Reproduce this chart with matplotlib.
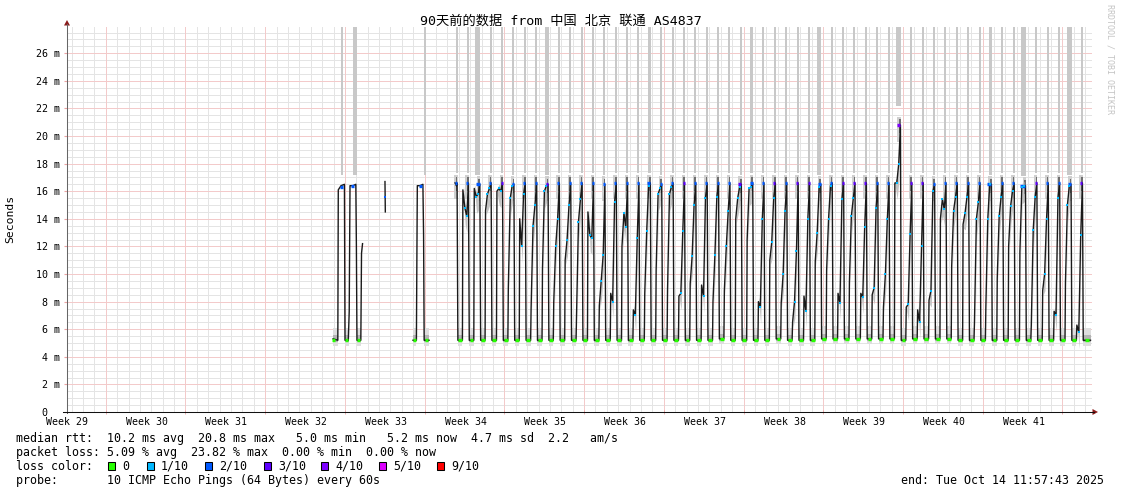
import matplotlib
matplotlib.use('Agg')
import matplotlib.pyplot as plt
from matplotlib.patches import Rectangle, Polygon

W, H = 1121, 494
PX_PER_DAY = 11.389

# ---------------- data (x = days since graph start, y = RTT in ms) ----------------
week_labels = ['Week 29', 'Week 30', 'Week 31', 'Week 32', 'Week 33', 'Week 34', 'Week 35',
               'Week 36', 'Week 37', 'Week 38', 'Week 39', 'Week 40', 'Week 41']
week_label_day = [0, 7, 14, 21, 28, 35, 42, 49, 56, 63, 70, 77, 84]
week_start_day = [3.4, 10.4, 17.4, 24.4, 31.4, 38.4, 45.4, 52.4, 59.4, 66.4, 73.4, 80.4, 87.4]
ytick_vals = [0, 2, 4, 6, 8, 10, 12, 14, 16, 18, 20, 22, 24, 26]
ytick_labels = ['0  ', '2 m', '4 m', '6 m', '8 m', '10 m', '12 m', '14 m', '16 m', '18 m',
                '20 m', '22 m', '24 m', '26 m']

# first short burst of data
segA_t = [23.36, 23.78, 23.82, 24.06, 24.36, 24.41, 24.70, 24.78, 24.85, 25.11, 25.36, 25.41,
          25.46, 25.80, 25.86, 25.95]
segA_v = [5.3, 5.2, 16.1, 16.4, 16.5, 5.2, 5.2, 7.3, 16.4, 16.4, 16.5, 12.0, 5.2, 5.2, 11.5, 12.2]
segA_low = [(23.40, 5.2), (24.55, 5.2), (25.62, 5.2)]
segA_peak = [(24.10, 16.3), (25.05, 16.4)]
segA_bars = [(24.07, 1.5), (25.15, 4)]

blip_t = [27.92, 27.95]
blip_v = [16.7, 14.5]

segB_t = [30.38, 30.68, 30.72, 30.76, 31.00, 31.25, 31.31, 31.36, 31.79]
segB_v = [5.2, 5.2, 11.0, 16.4, 16.4, 16.5, 12.8, 5.2, 5.2]
segB_low = [(30.52, 5.2), (31.58, 5.2)]
segB_peak = [(31.05, 16.4)]
segB_bars = [(31.32, 2)]

# continuous part: one evening drop per day
segC_start, segC_end = 34.07, 89.87
drop_t = [34.29, 35.29, 36.29, 37.28, 38.28, 39.28, 40.28, 41.28, 42.28, 43.27, 44.27, 45.27,
          46.27, 47.27, 48.27, 49.26, 50.26, 51.26, 52.26, 53.26, 54.26, 55.25, 56.25, 57.25,
          58.25, 59.25, 60.25, 61.24, 62.24, 63.24, 64.24, 65.24, 66.23, 67.23, 68.23, 69.23,
          70.23, 71.23, 72.22, 73.22, 74.22, 75.22, 76.22, 77.22, 78.21, 79.21, 80.21, 81.21,
          82.21, 83.21, 84.20, 85.20, 86.20, 87.20, 88.20, 89.20]
hi_a = [16.6, 16.1, 16.2, 14.6, 16.0, 9.0, 14.0, 7.5, 10.4, 8.0, 11.0, 7.0, 14.5, 7.7, 8.6, 12.0,
        7.4, 8.6, 10.3, 8.8, 8.4, 9.3, 9.2, 8.0, 8.8, 14.0, 12.5, 8.0, 11.0, 7.9, 6.5, 8.4, 10.9,
        10.3, 8.6, 9.4, 8.6, 8.5, 7.6, 16.6, 7.6, 7.4, 8.1, 14.0, 10.6, 13.6, 6.5, 7.6, 9.7, 12.0,
        11.6, 6.3, 8.8, 7.3, 9.4, 6.3]
hi_b = [16.5, 14.8, 15.6, 15.8, 16.2, 15.5, 12.0, 13.5, 16.0, 12.0, 12.5, 13.8, 12.8, 9.5, 8.0,
        14.4, 7.0, 13.1, 15.8, 15.8, 8.6, 11.3, 8.4, 11.4, 12.0, 15.5, 16.2, 7.6, 12.3, 10.0, 8.0,
        7.3, 13.0, 14.0, 7.9, 14.2, 8.3, 9.0, 10.0, 16.6, 7.8, 6.5, 8.8, 15.4, 14.6, 14.4, 14.0,
        14.0, 14.2, 14.9, 16.3, 13.2, 10.0, 7.0, 15.0, 5.8]
hi_c = [16.4, 14.2, 15.8, 16.2, 16.0, 16.4, 15.8, 15.0, 16.4, 14.0, 15.0, 15.4, 12.6, 11.4, 15.2,
        13.4, 12.6, 16.4, 16.2, 16.3, 13.1, 15.0, 15.5, 15.6, 14.6, 16.3, 16.3, 14.0, 15.5, 14.6,
        11.7, 14.0, 16.3, 16.4, 15.4, 15.5, 13.4, 14.8, 14.0, 18.0, 12.9, 12.0, 16.0, 14.7, 15.6,
        15.6, 15.2, 16.5, 15.6, 16.0, 16.4, 15.6, 14.0, 15.5, 16.4, 12.8]
hi_d = [16.6, 16.6, 16.5, 16.6, 16.6, 16.5, 16.6, 16.6, 16.5, 16.6, 16.6, 16.6, 16.6, 16.5, 16.6,
        16.6, 16.6, 16.6, 16.5, 16.6, 16.6, 16.6, 16.6, 16.6, 16.6, 16.5, 16.6, 16.6, 16.6, 16.6,
        16.6, 16.6, 16.5, 16.6, 16.6, 16.6, 16.6, 16.6, 16.6, 20.8, 16.6, 16.6, 16.5, 16.6, 16.6,
        16.6, 16.6, 16.5, 16.6, 16.6, 16.4, 16.6, 16.6, 16.6, 16.5, 16.6]
low_v = [5.2, 5.2, 5.2, 5.2, 5.2, 5.2, 5.2, 5.2, 5.2, 5.2, 5.2, 5.2, 5.2, 5.2, 5.2, 5.2, 5.2, 5.2,
         5.2, 5.2, 5.2, 5.2, 5.2, 5.3, 5.2, 5.2, 5.2, 5.2, 5.3, 5.2, 5.2, 5.2, 5.3, 5.3, 5.3, 5.3,
         5.3, 5.3, 5.3, 5.2, 5.3, 5.3, 5.3, 5.3, 5.2, 5.2, 5.2, 5.2, 5.2, 5.2, 5.2, 5.2, 5.2, 5.2,
         5.2, 5.2]
peak_loss = [2, 2, 2, 2, 3, 2, 2, 2, 3, 2, 2, 2, 2, 2, 2, 2, 2, 2, 2, 2, 3, 2, 2, 2, 2, 3, 2, 2,
             3, 2, 3, 3, 2, 2, 3, 3, 3, 2, 2, 4, 3, 3, 2, 2, 2, 2, 2, 2, 2, 2, 2, 3, 2, 2, 2, 3]
peak_w = [2, 2, 4, 2, 2, 2, 2, 2, 2, 2, 2, 2, 2, 2, 2, 2, 2, 3, 2, 2, 2, 2, 2, 2, 2, 3, 3, 2, 2,
          2, 2, 2, 3, 2, 2, 2, 2, 2, 2, 3, 2, 2, 2, 2, 2, 2, 2, 4, 2, 2, 5, 2, 2, 2, 3, 2]
bar_w = [2, 2, 5, 2, 2, 2, 2, 2, 4, 2, 2, 2, 2, 2, 2, 2, 2, 3, 2, 2, 2, 2, 2, 2, 2, 2, 3, 2, 2, 2,
         2, 2, 4, 2, 2, 2, 2, 2, 2, 5, 2, 2, 2, 2, 2, 2, 2, 3, 2, 2, 5, 2, 2, 2, 5, 2]

loss_colors = ['#26ff00', '#00b8ff', '#0059ff', '#5e00ff', '#7e00ff', '#dd00ff', '#ff0000']
loss_names = ['0', '1/10', '2/10', '3/10', '4/10', '5/10', '9/10']

legend_lines = [
    'median rtt:  10.2 ms avg  20.8 ms max   5.0 ms min   5.2 ms now  4.7 ms sd  2.2   am/s',
    'packet loss: 5.09 % avg  23.82 % max  0.00 % min  0.00 % now',
    'loss color:',
    'probe:       10 ICMP Echo Pings (64 Bytes) every 60s',
]
end_text = 'end: Tue Oct 14 11:57:43 2025'
title = '90天前的数据 from 中国 北京 联通 AS4837'

# ---------------- figure ----------------
plt.rcParams['font.family'] = ['DejaVu Sans Mono', 'Noto Sans CJK SC']
fig = plt.figure(figsize=(W / 100, H / 100), dpi=100)
fig.patch.set_facecolor('white')

L, R, B, T = 67, 1092, 412, 27
ax = fig.add_axes([L / W, 1 - B / H, (R - L) / W, (B - T) / H])
ax.set_xlim(0, 90)
ax.set_ylim(0, 27.9)
for s in ax.spines.values():
    s.set_visible(False)

# dotted grid, drawn behind the data (solid light colours stand in for the 1px dots)
gkw = dict(lw=0.72, zorder=0)
minor_c, major_c = '#e4e4e4', '#f3caca'
d = 0.4
while d < 90:
    if min(abs(d - w) for w in week_start_day) > 0.01:
        ax.axvline(d, color=minor_c, **gkw)
    d += 1
y = 0.5
while y < 27.9:
    if abs(y / 2 - round(y / 2)) > 0.01:
        ax.axhline(y, color=minor_c, **gkw)
    y += 0.5
for w in week_start_day:
    ax.axvline(w, color=major_c, **gkw)
for v in ytick_vals[1:]:
    ax.axhline(v, color=major_c, **gkw)

# build the median path of the continuous part
UP_LEN = 0.53
tc, vc = [segC_start, segC_start + 0.09], [hi_a[0], hi_b[0]]
lows = []
for k in range(len(drop_t)):
    dk = drop_t[k]
    if k > 0:
        up = dk - UP_LEN
        lows.append((drop_t[k - 1] + 0.03, up - 0.04, low_v[k - 1]))
        tc += [up - 0.04, up, up + 0.17, up + 0.34]
        vc += [low_v[k - 1], hi_a[k], hi_b[k], hi_c[k]]
    else:
        tc.append(dk - 0.1)
        vc.append(hi_c[0])
    tc += [dk - 0.04, dk + 0.03]
    vc += [hi_d[k], low_v[k]]
tc.append(segC_end)
vc.append(low_v[-1])
lows.append((drop_t[-1] + 0.03, segC_end, low_v[-1]))

# lost-ping smoke reaching the top of the graph
for k in range(len(drop_t)):
    wd = bar_w[k] / PX_PER_DAY
    bot = hi_d[k] + (1.4 if hi_d[k] > 18 else 0.7)
    ax.bar(drop_t[k] - wd, 27.9 - bot, bottom=bot, width=wd, align='edge',
           color='#c8c8c8', lw=0, zorder=1)
for bt, bw in segA_bars + segB_bars:
    ax.bar(bt, 27.9 - 17.2, bottom=17.2, width=bw / PX_PER_DAY, align='edge',
           color='#c8c8c8', lw=0, zorder=1)

# smoke around the low parts
for a, b, lv in lows + [(23.36, 23.78, 5.2), (24.43, 24.76, 5.2), (25.48, 25.80, 5.2),
                        (30.38, 30.68, 5.2), (31.38, 31.79, 5.2)]:
    ax.fill_between([a, b], [lv - 0.4] * 2, [lv + 0.9] * 2, color='#dedede', lw=0, zorder=2)
    ax.fill_between([a, b], [lv - 0.15] * 2, [lv + 0.35] * 2, color='#b4b4b4', lw=0, zorder=2)

# smoke around the peaks and along the falling tail
for k in range(len(drop_t)):
    dk, pk = drop_t[k], hi_d[k]
    ax.fill_between([dk - 0.3, dk], [pk - 1.2] * 2, [pk + 0.6] * 2,
                    color='#cfcfcf', lw=0, zorder=2)
    ax.fill_between([dk - 0.16, dk - 0.02], [pk - 0.6] * 2, [pk + 0.4] * 2,
                    color='#6e6e6e', lw=0, zorder=2)
    if k > 0:
        up = dk - UP_LEN
        ax.fill_between([up + 0.05, up + 0.2, up + 0.36], [hi_a[k] - 0.3, hi_b[k] - 1.2, hi_c[k] - 1.2],
                        [hi_a[k] + 0.3, hi_b[k] + 0.3, hi_c[k] + 0.3],
                        color='#c4c4c4', lw=0, zorder=2)

# median line
for t_, v_ in [(tc, vc), (segA_t, segA_v), (segB_t, segB_v), (blip_t, blip_v)]:
    ax.plot(t_, v_, color='#1a1a1a', lw=1.0, zorder=5)

# loss colour marks
mk = dict(lw=2.4, solid_capstyle='butt', zorder=6)
for a, b, lv in lows:
    c = (a + b) / 2
    ax.plot([c - 0.17, c + 0.17], [lv, lv], color=loss_colors[0], **mk)
for c, lv in segA_low + segB_low:
    ax.plot([c - 0.15, c + 0.15], [lv, lv], color=loss_colors[0], **mk)
for k in range(len(drop_t)):
    dk = drop_t[k]
    pw = peak_w[k] / PX_PER_DAY
    ax.plot([dk - 0.04 - pw, dk - 0.04], [hi_d[k]] * 2, color=loss_colors[peak_loss[k]], **mk)
    if k > 0:
        up = dk - UP_LEN
        ax.plot([up + 0.17, up + 0.34], [hi_b[k], hi_c[k]], ls='none', marker='s',
                ms=1.6, mew=0, color=loss_colors[1], zorder=6)
for c, pv in segA_peak + segB_peak:
    ax.plot([c - 0.12, c + 0.12], [pv, pv], color=loss_colors[2], **mk)
ax.plot([27.93], [15.6], ls='none', marker='s', ms=1.6, mew=0, color=loss_colors[2], zorder=6)

# ticks
ax.set_xticks(week_label_day)
ax.set_xticklabels(week_labels, fontsize=7.1)
ax.set_xticks(week_start_day, minor=True)
ax.set_yticks(ytick_vals)
ax.set_yticklabels(ytick_labels, fontsize=7.2)
ax.tick_params(axis='x', which='major', length=0, pad=3.5)
ax.tick_params(axis='x', which='minor', length=2.5, color='#eba3a3', direction='inout')
ax.tick_params(axis='y', which='major', length=2.5, color='#eba3a3', pad=2.2)

# ---------------- overlay in pixel coordinates ----------------
ov = fig.add_axes([0, 0, 1, 1], zorder=10)
ov.set_xlim(0, W)
ov.set_ylim(H, 0)
ov.axis('off')
ov.patch.set_alpha(0)

ov.plot([67, 67], [412.5, 24], color='#666666', lw=0.75)
ov.plot([63, 1094], [412, 412], color='#111111', lw=0.75)
ov.add_patch(Polygon([[67, 20], [64, 25.5], [70, 25.5]], closed=True, color='#8b1a1a', lw=0))
ov.add_patch(Polygon([[1098, 412], [1092.5, 409], [1092.5, 415]], closed=True, color='#8b1a1a', lw=0))

ov.text(560.5, 21, title, ha='center', va='center', fontsize=9.5)
ov.text(10, 219, 'Seconds', rotation=90, ha='center', va='center', fontsize=8.2)
ov.text(1110, 59, 'RRDTOOL / TOBI OETIKER', rotation=270, ha='center', va='center',
        fontsize=6, color='#c4c4c4')

leg_y = [438, 452, 466, 480]
for s, yy in zip(legend_lines, leg_y):
    ov.text(16, yy, s, ha='left', va='center', fontsize=8.4)
ov.text(1104, 480, end_text, ha='right', va='center', fontsize=8.4)

sq_x = [108, 147, 205, 264, 321, 379, 437]
for xs, col, name in zip(sq_x, loss_colors, loss_names):
    ov.add_patch(Rectangle((xs, 462), 7, 8, facecolor=col, edgecolor='black', lw=0.75))
    ov.text(xs + 14, 466, name, ha='left', va='center', fontsize=8.4)

fig.savefig('out.png', dpi=100)
